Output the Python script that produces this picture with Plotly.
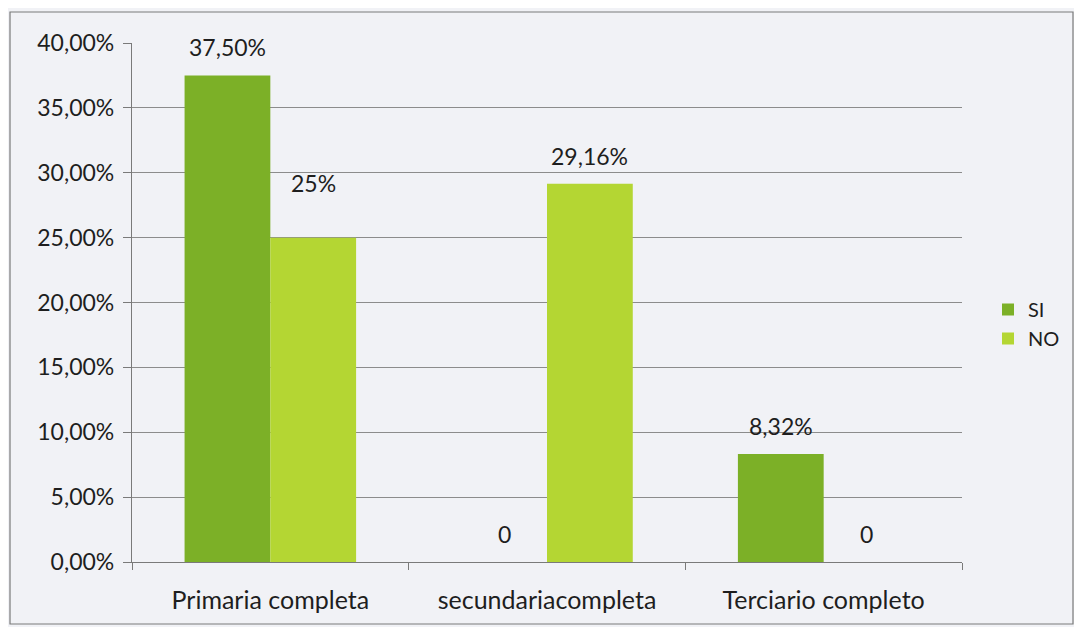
import plotly.graph_objects as go

categories = ["Primaria completa", "secundariacompleta", "Terciario completo"]
si_values = [37.5, 0, 8.32]
no_values = [25, 29.16, 0]
si_labels = ["37,50%", "0", "8,32%"]
no_labels = ["25%", "29,16%", "0"]
y_tickvals = [0, 5, 10, 15, 20, 25, 30, 35, 40]
y_ticktext = ["0,00%", "5,00%", "10,00%", "15,00%", "20,00%", "25,00%", "30,00%", "35,00%", "40,00%"]

FONT = "Lato, 'Open Sans', sans-serif"
TXT = "#1e1e1e"
FS = 23
BARGAP = 0.38
# extra vertical lift (px) of each data label, as laid out in the reference
si_label_lift = [0, 0, 0]
no_label_lift = [27, 0, 0]

# figure is placed by the page with an 8px body margin
W, H = 1066, 619
L, R, T, B = 124, 112, 35, 65
pw, ph = W - L - R, H - T - B

def px2x(px):
    return (px - L) / pw

def py2y(py):
    return (H - B - py) / ph

bar_offset = pw / len(categories) * (1 - BARGAP) / 4

fig = go.Figure()
fig.add_trace(go.Bar(
    name="SI", x=categories, y=si_values,
    marker=dict(color="#7cb027", line=dict(width=0)),
))
fig.add_trace(go.Bar(
    name="NO", x=categories, y=no_values,
    marker=dict(color="#b4d633", line=dict(width=0)),
))

annotations = []
for cat, v, t, lift in zip(categories, si_values, si_labels, si_label_lift):
    annotations.append(dict(x=cat, y=v, text=t, xshift=-bar_offset, yshift=12 + lift,
                            yanchor="bottom", showarrow=False,
                            font=dict(size=FS, color=TXT, family=FONT)))
for cat, v, t, lift in zip(categories, no_values, no_labels, no_label_lift):
    annotations.append(dict(x=cat, y=v, text=t, xshift=bar_offset, yshift=12 + lift,
                            yanchor="bottom", showarrow=False,
                            font=dict(size=FS, color=TXT, family=FONT)))

fig.add_shape(type="rect", xref="paper", yref="paper",
              x0=px2x(2), x1=px2x(1065), y0=py2y(616), y1=py2y(4),
              line=dict(color="#7a7a7a", width=1.2), layer="below")

fig.update_layout(
    width=W, height=H,
    margin=dict(l=L, r=R, t=T, b=B, autoexpand=False),
    paper_bgcolor="#f1f2f6",
    plot_bgcolor="#f1f2f6",
    barmode="group", bargap=BARGAP, bargroupgap=0,
    font=dict(family=FONT, size=FS, color=TXT),
    annotations=annotations,
    showlegend=True,
    legend=dict(x=980 / W, y=1 - 316 / H, xref="container", yref="container",
                xanchor="left", yanchor="middle",
                bgcolor="rgba(0,0,0,0)", font=dict(size=20, color=TXT),
                tracegroupgap=12, itemwidth=30, traceorder="normal"),
)
fig.update_xaxes(
    showline=True, linecolor="#7a7a7a", linewidth=1.2,
    ticks="outside", tickson="boundaries", ticklen=7, tickcolor="#7a7a7a",
    showgrid=False, ticklabelstandoff=16,
    tickfont=dict(size=25, color=TXT, family=FONT),
)
fig.update_yaxes(
    range=[0, 40], tickvals=y_tickvals, ticktext=y_ticktext,
    showline=True, linecolor="#7a7a7a", linewidth=1.2,
    ticks="outside", ticklen=8, tickcolor="#7a7a7a",
    showgrid=True, gridcolor="#8c8c8c", gridwidth=1, zeroline=False,
    ticklabelstandoff=4,
    tickfont=dict(size=FS, color=TXT, family=FONT),
)

fig.write_html("out.html")
